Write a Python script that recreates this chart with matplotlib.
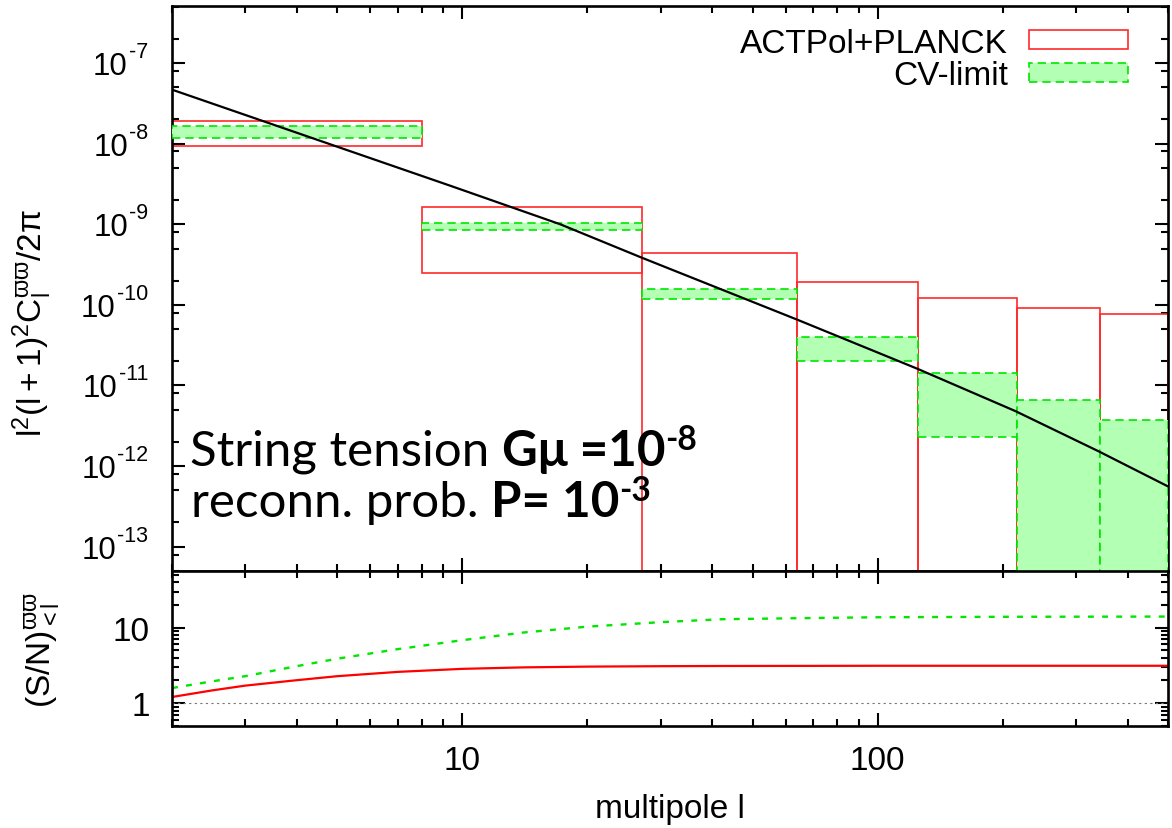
import numpy as np
import matplotlib
matplotlib.use("Agg")
import matplotlib.pyplot as plt
from matplotlib.patches import Patch
from matplotlib.ticker import LogLocator, NullFormatter, FixedLocator, FixedFormatter
from matplotlib.transforms import IdentityTransform

plt.rcParams['font.family'] = ['Liberation Sans', 'DejaVu Sans']
plt.rcParams['mathtext.fontset'] = 'custom'
plt.rcParams['mathtext.rm'] = 'Liberation Sans'
plt.rcParams['mathtext.it'] = 'Liberation Sans'
plt.rcParams['mathtext.bf'] = 'Liberation Sans:bold'
plt.rcParams['mathtext.sf'] = 'Liberation Sans'
plt.rcParams['axes.unicode_minus'] = False

# multipole bins and band powers (upper panel)
edges = [2, 8, 27, 64, 125, 216, 343, 500]
act_lo = [9.3e-9, 2.5e-10, 0, 0, 0, 0, 0]          # 0 = below the plotted range
act_hi = [1.89e-8, 1.66e-9, 4.37e-10, 1.94e-10, 1.21e-10, 9.06e-11, 7.6e-11]
cv_lo = [1.16e-8, 8.5e-10, 1.17e-10, 1.99e-11, 2.32e-12, 0, 0]
cv_hi = [1.66e-8, 1.05e-9, 1.56e-10, 3.94e-11, 1.42e-11, 6.56e-12, 3.7e-12]

# string model spectrum
ell = [2, 9.36, 17.2, 27, 63.8, 124.7, 214.8, 340, 500]
cl = [4.67e-8, 3.0e-9, 1.0e-9, 3.86e-10, 6.6e-11, 1.61e-11, 4.8e-12, 1.53e-12, 5.6e-13]

# cumulative signal to noise (lower panel)
sn_ell = [2, 2.5, 3, 4, 5, 7, 10, 14, 20, 30, 42, 70, 100, 200, 500]
sn_act = [1.21, 1.48, 1.71, 2.02, 2.28, 2.6, 2.85, 2.98, 3.05, 3.09, 3.11, 3.12, 3.13, 3.13, 3.13]
sn_cv = [1.59, 1.95, 2.28, 3.1, 3.88, 5.2, 6.82, 8.6, 10.3, 11.8, 12.9, 13.4, 13.7, 13.9, 14.0]

ytick_exps = [-13, -12, -11, -10, -9, -8, -7]
xticks = [10, 100]
xticklabels = ['10', '100']
sn_ticks = [1, 10]
sn_ticklabels = ['1', '10']

RED = '#ff2a2a'
GREEN = '#00e600'
FILL = '#b3ffb3'
FS = 24

fig = plt.figure(figsize=(11.72, 8.29), dpi=100)
ax1 = fig.add_axes([0.1468, 0.3100, 0.8498, 0.6816])
ax2 = fig.add_axes([0.1468, 0.1230, 0.8498, 0.1870], sharex=ax1)

widths = np.diff(edges)
lefts = np.array(edges[:-1])
ax1.bar(lefts, np.array(act_hi) - np.array(act_lo), width=widths, bottom=act_lo,
        align='edge', facecolor='none', edgecolor=RED, linewidth=1.2, zorder=2)
ax1.bar(lefts, np.array(cv_hi) - np.array(cv_lo), width=widths, bottom=cv_lo,
        align='edge', facecolor=FILL, edgecolor=GREEN, linewidth=1.2,
        linestyle=(0, (5, 3)), zorder=3)
ax1.plot(ell, cl, color='black', lw=1.6, zorder=4)

ax1.set_xscale('log')
ax1.set_yscale('log')
ax1.set_xlim(2, 500)
ax1.set_ylim(5e-14, 5.1e-7)

handles = [Patch(facecolor='none', edgecolor=RED, linewidth=1.2),
           Patch(facecolor=FILL, edgecolor=GREEN, linewidth=1.2, linestyle=(0, (5, 3)))]
ax1.legend(handles, ['ACTPol+PLANCK', 'CV-limit'], loc='upper right',
           bbox_to_anchor=(0.983, 1.003), frameon=False, markerfirst=False,
           fontsize=FS, handlelength=2.95, handleheight=0.5, labelspacing=0.05,
           handletextpad=0.65, borderpad=0.2)

ax2.plot(sn_ell, sn_act, color='#ff0000', lw=1.6)
ax2.plot(sn_ell, sn_cv, color=GREEN, lw=1.7, linestyle=(0, (2.5, 3.5)))
ax2.axhline(1, color='#777777', lw=0.8, linestyle=(0, (2, 3)))
ax2.set_yscale('log')
ax2.set_ylim(0.5, 56)

for ax in (ax1, ax2):
    for s in ax.spines.values():
        s.set_linewidth(1.9)
    ax.tick_params(which='both', direction='in', top=True, right=True, width=1.5,
                   labelsize=FS)
    ax.tick_params(which='major', length=9.5, pad=16)
    ax.tick_params(which='minor', length=5)
    ax.xaxis.set_minor_locator(LogLocator(base=10, subs=np.arange(2, 10)))
    ax.xaxis.set_minor_formatter(NullFormatter())

ax1.yaxis.set_major_locator(FixedLocator([10.0 ** e for e in ytick_exps]))
ax1.yaxis.set_major_formatter(NullFormatter())
ax1.yaxis.set_minor_locator(LogLocator(base=10, subs=(2, 5, 8), numticks=20))
ax1.yaxis.set_minor_formatter(NullFormatter())
ax1.tick_params(axis='x', labelbottom=False)

ax2.xaxis.set_major_locator(FixedLocator(xticks))
ax2.xaxis.set_major_formatter(FixedFormatter(xticklabels))
ax2.yaxis.set_major_locator(FixedLocator(sn_ticks))
ax2.yaxis.set_major_formatter(FixedFormatter(sn_ticklabels))
ax2.yaxis.set_minor_locator(LogLocator(base=10, subs=np.arange(2, 10), numticks=20))
ax2.yaxis.set_minor_formatter(NullFormatter())
ax2.tick_params(axis='x', pad=14)

fig.text(0.0273, 0.6104, r'$\mathrm{l^2(l+1)^2C_l^{\varpi\varpi}/2\pi}$', rotation=90,
         ha='center', va='center', fontsize=FS)
fig.text(0.036, 1 - 650 / 829, r'$\mathrm{(S/N)_{<l}^{\varpi\varpi}}$', rotation=90,
         ha='center', va='center', fontsize=FS)
fig.text(0.5717, 1 - 810 / 829, 'multipole l', ha='center', va='center', fontsize=FS)

renderer = fig.canvas.get_renderer()

# gnuplot style "10^-n" tick labels with a large superscript
lab_right = ax1.transAxes.transform((0, 0))[0] - 24
for e in ytick_exps:
    yp = ax1.transData.transform((2, 10.0 ** e))[1]
    sup = fig.text(lab_right, yp - 11 + 17, str(e), transform=IdentityTransform(),
                   fontsize=15.5, ha='right', va='baseline')
    x0 = sup.get_window_extent(renderer).x0
    fig.text(x0 - 1, yp - 11, '10', transform=IdentityTransform(),
             fontsize=22.5, ha='right', va='baseline')

# annotation written piece by piece (normal, bold, bold superscript)
ann_font = ['Lato', 'Noto Sans', 'DejaVu Sans']
ann_size = 35.5


def rich_line(x0, y0, pieces):
    x = x0
    for txt, weight, scale, dy in pieces:
        t = fig.text(x, y0 + dy, txt, transform=IdentityTransform(), fontsize=ann_size * scale,
                     fontweight=weight, family=ann_font, ha='left', va='baseline')
        x = t.get_window_extent(renderer).x1


rich_line(190, 829 - 466, [('String tension ', 'normal', 1, 0), ('Gμ =10', 'bold', 1, 0),
                           ('-8', 'bold', 0.68, 16)])
rich_line(191, 829 - 517, [('reconn. prob. ', 'normal', 1, 0), ('P= 10', 'bold', 1, 0),
                           ('-3', 'bold', 0.68, 16)])

fig.savefig('out.png', dpi=100)
